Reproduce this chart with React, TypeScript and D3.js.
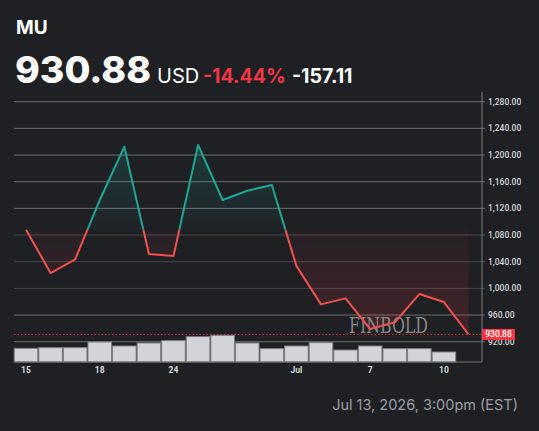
import React from "react";
import { scaleLinear, scalePoint, line, area } from "d3";

const W = 539;
const H = 431;

const dates = [
  "2026-06-15", "2026-06-16", "2026-06-17", "2026-06-18", "2026-06-22",
  "2026-06-23", "2026-06-24", "2026-06-25", "2026-06-26", "2026-06-29",
  "2026-06-30", "2026-07-01", "2026-07-02", "2026-07-06", "2026-07-07",
  "2026-07-08", "2026-07-09", "2026-07-10", "2026-07-13",
];
const prices = [
  1087.99, 1023, 1043.5, 1132.5, 1212.5, 1051.5, 1048.5, 1215, 1132.5, 1146.5,
  1155, 1033.5, 976, 985, 939, 949, 991.5, 979.5, 930.88,
];
// volume, millions of shares (last session has none yet)
const volumes = [
  20.5, 21.5, 21.5, 30, 24, 28.5, 32, 38, 40, 28.5, 20, 24, 29, 18, 24, 20, 20, 15, 0,
];
const tickDates = ["2026-06-15", "2026-06-18", "2026-06-24", "2026-07-01", "2026-07-07", "2026-07-10"];
const tickLabels = ["15", "18", "24", "Jul", "7", "10"];
const priceTicks = [920, 960, 1000, 1040, 1080, 1120, 1160, 1200, 1240, 1280];

const symbol = "MU";
const lastPrice = 930.88;
const baseValue = 1087.99;
const change = -157.11;
const changePct = -14.44;
const stamp = "Jul 13, 2026, 3:00pm (EST)";

const bg = "#1e2024";
const up = "#22a595";
const down = "#f0514c";
const red = "#f23645";

const left = 14;
const axisX = 482;
const bottom = 362;

export default function App() {
  const x = scalePoint<string>().domain(dates).range([26, 468.5]);
  const step = x.step();
  const y = scaleLinear().domain([920, 1280]).range([341.7, 101.7]);
  const v = scaleLinear().domain([0, 40]).range([bottom, 335.3]);
  const yb = y(baseValue);

  const pts = dates.map((d, i) => ({ d, p: prices[i], vol: volumes[i] }));
  const path = line<any>().x((d) => x(d.d)!).y((d) => y(d.p))(pts) || "";
  const fill = area<any>().x((d) => x(d.d)!).y0(yb).y1((d) => y(d.p))(pts) || "";

  const fmt = (n: number) =>
    n.toLocaleString("en-US", { minimumFractionDigits: 2, maximumFractionDigits: 2 });

  return (
    <svg
      width={W}
      height={H}
      style={{ position: "absolute", left: 0, top: 0, background: bg }}
    >
      <defs>
        <clipPath id="above">
          <rect x={0} y={0} width={W} height={yb} />
        </clipPath>
        <clipPath id="below">
          <rect x={0} y={yb} width={W} height={H - yb} />
        </clipPath>
        <linearGradient id="gUp" gradientUnits="userSpaceOnUse" x1={0} x2={0} y1={yb} y2={y(1215)}>
          <stop offset="0" stopColor={up} stopOpacity={0.03} />
          <stop offset="1" stopColor={up} stopOpacity={0.2} />
        </linearGradient>
        <linearGradient id="gDown" gradientUnits="userSpaceOnUse" x1={0} x2={0} y1={yb} y2={y(930)}>
          <stop offset="0" stopColor={red} stopOpacity={0.04} />
          <stop offset="1" stopColor={red} stopOpacity={0.18} />
        </linearGradient>
      </defs>
      <rect width={W} height={H} fill={bg} />

      {/* header */}
      <text x={16} y={34} fill="#fff" fontFamily="Inter, sans-serif" fontWeight={700} fontSize={19}>
        {symbol}
      </text>
      <text x={15} y={83} fill="#fff" fontFamily="Inter, sans-serif" fontWeight={800} fontSize={37.5}>
        {lastPrice.toFixed(2)}
      </text>
      <text x={157} y={83} fill="#fff" fontFamily="Inter, sans-serif" fontWeight={400} fontSize={20}>
        USD
      </text>
      <text x={203} y={83} fill={red} fontFamily="Inter, sans-serif" fontWeight={700} fontSize={19.5}>
        {changePct.toFixed(2)}%
      </text>
      <text x={292} y={83} fill="#fff" fontFamily="Inter, sans-serif" fontWeight={700} fontSize={19.5}>
        {change.toFixed(2)}
      </text>

      {/* grid */}
      {priceTicks.map((t) => (
        <line
          key={t}
          x1={left}
          x2={axisX + 3}
          y1={y(t)}
          y2={y(t)}
          stroke={t >= 1000 && t <= 1080 ? "#45474c" : "#6c6e72"}
          strokeWidth={1}
        />
      ))}

      {/* fills */}
      <path d={fill} fill="url(#gUp)" clipPath="url(#above)" />
      <path d={fill} fill="url(#gDown)" clipPath="url(#below)" />

      {/* volume */}
      {pts.map((d) =>
        d.vol > 0 ? (
          <rect
            key={d.d}
            x={x(d.d)! - step / 2 + 0.5}
            y={v(d.vol)}
            width={step - 1}
            height={bottom - v(d.vol)}
            fill="#d2d4da"
            stroke="#7d7f84"
            strokeWidth={1}
          />
        ) : null
      )}

      {/* watermark */}
      <text
        x={349}
        y={333}
        textLength={79}
        lengthAdjust="spacingAndGlyphs"
        fill="#a3a3a3"
        fillOpacity={0.8}
        fontFamily="'DejaVu Serif', 'Liberation Serif', serif"
        fontSize={22}
      >
        FINBOLD
      </text>

      {/* price line */}
      <path d={path} fill="none" stroke={up} strokeWidth={2} strokeLinejoin="round" clipPath="url(#above)" />
      <path d={path} fill="none" stroke={down} strokeWidth={2} strokeLinejoin="round" clipPath="url(#below)" />

      {/* last price line */}
      <line
        x1={left}
        x2={axisX}
        y1={y(lastPrice)}
        y2={y(lastPrice)}
        stroke={red}
        strokeOpacity={0.85}
        strokeDasharray="1.5,2"
      />

      {/* axes */}
      <line x1={axisX} x2={axisX} y1={92} y2={bottom} stroke="#7a7c80" />
      <line x1={left} x2={axisX} y1={bottom} y2={bottom} stroke="#6c6e72" />
      {priceTicks.map((t) => (
        <text
          key={t}
          x={488}
          y={y(t)}
          dy="0.35em"
          fill="#d6d8dc"
          fontFamily="Roboto, sans-serif"
          fontWeight={500}
          fontSize={8.5}
        >
          {fmt(t)}
        </text>
      ))}
      <rect x={482} y={y(lastPrice) - 5.5} width={33} height={11} fill={red} />
      <text
        x={498.5}
        y={y(lastPrice)}
        dy="0.35em"
        textAnchor="middle"
        fill="#fff"
        fontFamily="Roboto, sans-serif"
        fontWeight={500}
        fontSize={8.5}
      >
        {fmt(lastPrice)}
      </text>
      {tickDates.map((d, i) => (
        <text
          key={d}
          x={x(d)!}
          y={373}
          textAnchor="middle"
          fill="#d6d8dc"
          fontFamily="Roboto, sans-serif"
          fontWeight={700}
          fontSize={8.5}
        >
          {tickLabels[i]}
        </text>
      ))}

      {/* footer */}
      <text
        x={518}
        y={410}
        textAnchor="end"
        fill="#9b9da2"
        fontFamily="Inter, sans-serif"
        fontSize={14.5}
      >
        {stamp}
      </text>
    </svg>
  );
}
